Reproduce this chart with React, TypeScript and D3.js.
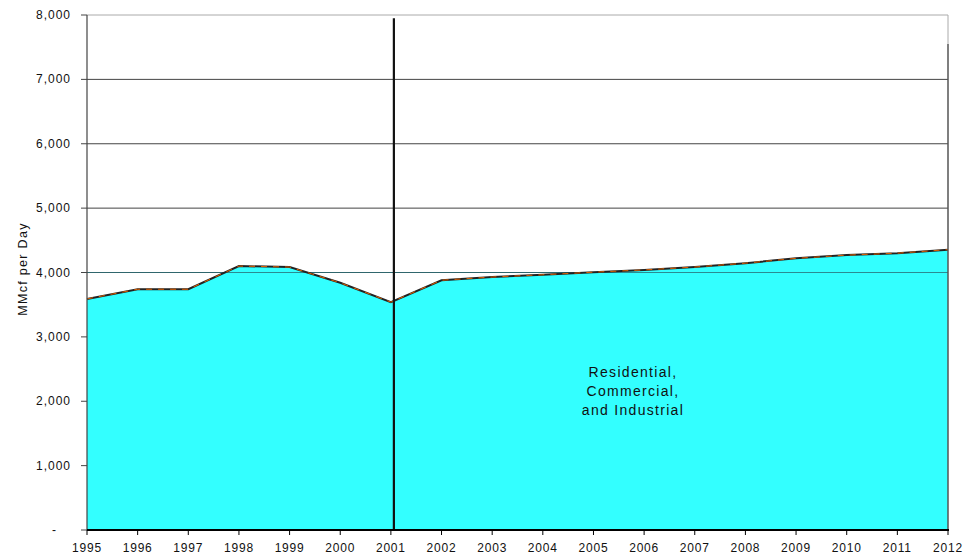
import React from "react";
import * as d3 from "d3";

const years = [1995,1996,1997,1998,1999,2000,2001,2002,2003,2004,2005,2006,2007,2008,2009,2010,2011,2012];
const values = [3590,3740,3740,4100,4085,3840,3540,3880,3930,3965,4005,4040,4085,4145,4220,4270,4300,4355];
const yTicks = [0,1000,2000,3000,4000,5000,6000,7000,8000];
const labelLines = ["Residential,", "Commercial,", "and Industrial"];

export default function App() {
  const W = 965, H = 554;
  const left = 87, right = 948, top = 15, bottom = 530;
  const x = d3.scaleLinear().domain([1995, 2012]).range([left, right]);
  const y = d3.scaleLinear().domain([0, 8000]).range([bottom, top]);
  const data = years.map((yr, i) => ({ yr, v: values[i] }));
  const area = d3.area<any>().x(d => x(d.yr)).y0(bottom).y1(d => y(d.v))(data) || "";
  const line = d3.line<any>().x(d => x(d.yr)).y(d => y(d.v))(data) || "";
  const fmt = d3.format(",");
  const font = "Arial, 'Liberation Sans', sans-serif";
  const vx = x(2001) + 3;
  return (
    <svg width={W} height={H} style={{ position: "absolute", left: 0, top: 0, background: "#fff" }} fontFamily={font}>
      {yTicks.filter(t => t > 0).map(t => (
        <line key={t} x1={left} x2={right} y1={y(t)} y2={y(t)} stroke={t === 8000 ? "#aaa" : "#444"} strokeWidth={1} />
      ))}
      <path d={area} fill="#33ffff" />
      <line x1={left} x2={right} y1={y(4000)} y2={y(4000)} stroke="#2a6f78" strokeWidth={1.2} opacity={0.8} />
      <path d={line} fill="none" stroke="#222" strokeWidth={2} />
      <path d={line} fill="none" stroke="#e06000" strokeWidth={1} strokeDasharray="6 6" />
      <line x1={left} x2={left} y1={top} y2={bottom} stroke="#444" strokeWidth={1.2} />
      <line x1={right} x2={right} y1={top} y2={y(7550)} stroke="#aaa" strokeWidth={1} />
      <line x1={right} x2={right} y1={y(7550)} y2={bottom} stroke="#555" strokeWidth={1.5} />
      <line x1={vx} x2={vx} y1={y(7950)} y2={bottom} stroke="#111" strokeWidth={2.2} />
      <line x1={left} x2={right + 1} y1={bottom} y2={bottom} stroke="#000" strokeWidth={2} />
      {yTicks.map(t => (
        <g key={t}>
          <line x1={left - 6} x2={left} y1={y(t)} y2={y(t)} stroke="#444" />
          <text x={t === 0 ? 57 : 71} y={y(t) + 4} textAnchor="end" fontSize={12} letterSpacing={1} fill="#111">{t === 0 ? "-" : fmt(t)}</text>
        </g>
      ))}
      {years.map(yr => (
        <g key={yr}>
          <line x1={x(yr)} x2={x(yr)} y1={bottom} y2={bottom + 5} stroke="#000" />
          <text x={x(yr)} y={552} textAnchor="middle" fontSize={12} letterSpacing={0.8} fill="#111">{yr}</text>
        </g>
      ))}
      <text transform={`translate(27,269) rotate(-90)`} textAnchor="middle" fontSize={12.5} letterSpacing={1.3} fill="#111">MMcf per Day</text>
      {labelLines.map((s, i) => (
        <text key={i} x={633} y={377 + i * 19} textAnchor="middle" fontSize={14} letterSpacing={1.3} fill="#111">{s}</text>
      ))}
    </svg>
  );
}
